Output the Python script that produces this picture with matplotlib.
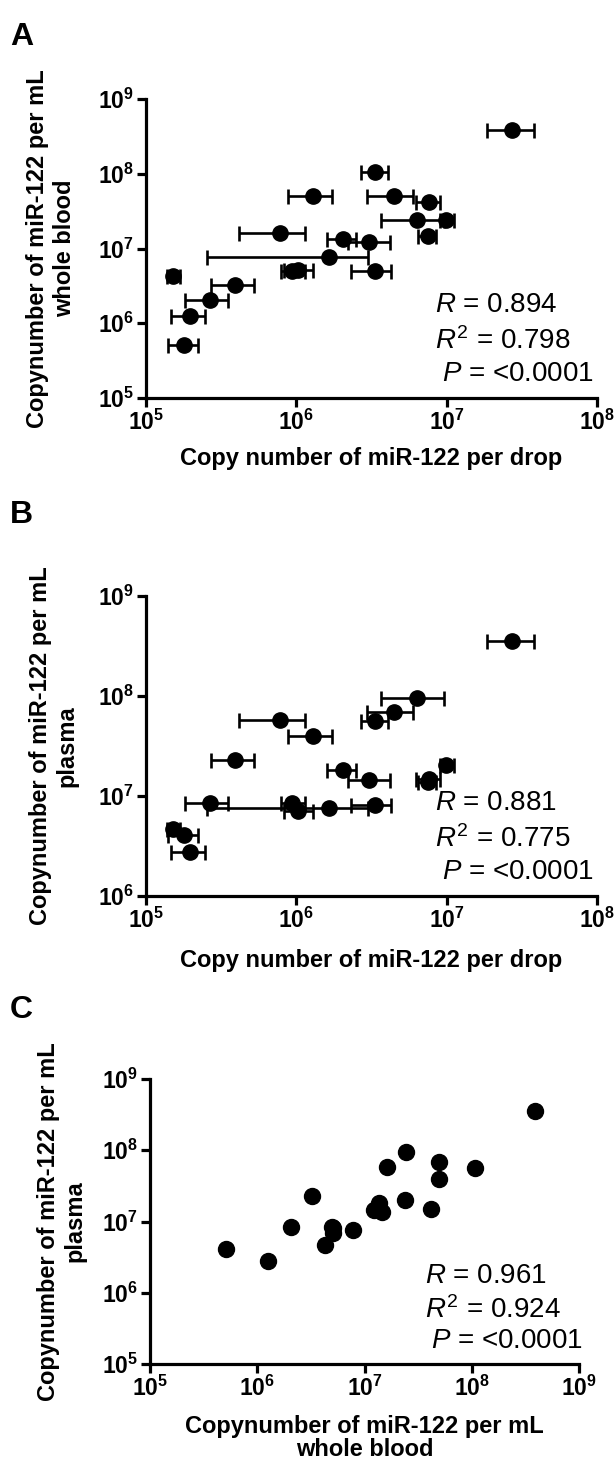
import numpy as np
import matplotlib.pyplot as plt

plt.rcParams['font.family'] = ['Liberation Sans', 'DejaVu Sans']
plt.rcParams['mathtext.fontset'] = 'custom'
plt.rcParams['mathtext.rm'] = 'Liberation Sans'
plt.rcParams['mathtext.it'] = 'Liberation Sans:italic'
plt.rcParams['mathtext.bf'] = 'Liberation Sans:bold'

# --- data: one entry per sample ---
# copy number per drop, with lower / upper error bar ends
drop = [2.73e7, 3.36e6, 1.30e6, 4.46e6, 7.67e6, 6.31e6, 9.9e6, 7.53e6, 7.82e5, 2.04e6,
        3.04e6, 1.66e6, 9.3e5, 1.02e6, 3.33e6, 1.51e5, 3.91e5, 2.68e5, 1.97e5, 1.80e5]
drop_lo = [1.86e7, 2.69e6, 8.8e5, 2.95e6, 6.24e6, 3.66e6, 9.08e6, 6.44e6, 4.15e5, 1.59e6,
           2.19e6, 2.54e5, 7.9e5, 8.3e5, 2.32e6, 1.38e5, 2.70e5, 1.81e5, 1.47e5, 1.41e5]
drop_hi = [3.80e7, 4.07e6, 1.74e6, 6.0e6, 8.97e6, 9.55e6, 1.12e7, 8.45e6, 1.14e6, 2.48e6,
           4.23e6, 3.0e6, 1.15e6, 1.29e6, 4.29e6, 1.68e5, 5.21e5, 3.53e5, 2.47e5, 2.22e5]
# copy number per mL whole blood
blood = [3.9e8, 1.07e8, 5.0e7, 5.0e7, 4.2e7, 2.42e7, 2.4e7, 1.46e7, 1.61e7, 1.36e7,
         1.22e7, 7.8e6, 4.95e6, 5.1e6, 5.07e6, 4.3e6, 3.27e6, 2.07e6, 1.26e6, 5.1e5]
# copy number per mL plasma
plasma = [3.58e8, 5.6e7, 3.95e7, 6.9e7, 1.49e7, 9.5e7, 2.02e7, 1.37e7, 5.8e7, 1.83e7,
          1.44e7, 7.6e6, 8.5e6, 7.0e6, 8.2e6, 4.66e6, 2.31e7, 8.5e6, 2.78e6, 4.07e6]

stats_a = ['0.894', '0.798', '<0.0001']
stats_b = ['0.881', '0.775', '<0.0001']
stats_c = ['0.961', '0.924', '<0.0001']

drop = np.array(drop)
xerr = [drop - np.array(drop_lo), np.array(drop_hi) - drop]

W, H = 615, 1463
fig = plt.figure(figsize=(W / 100, H / 100), dpi=100)


def box(left, right, top, bottom):
    return [left / W, 1 - bottom / H, (right - left) / W, (bottom - top) / H]


def style(ax, xlim, ylim):
    ax.set_xscale('log')
    ax.set_yscale('log')
    ax.set_xlim(*xlim)
    ax.set_ylim(*ylim)
    xt = 10.0 ** np.arange(np.log10(xlim[0]), np.log10(xlim[1]) + 1)
    yt = 10.0 ** np.arange(np.log10(ylim[0]), np.log10(ylim[1]) + 1)
    ax.set_xticks(xt)
    ax.set_yticks(yt)
    ax.set_xticklabels([r'$\mathbf{10^{%d}}$' % round(np.log10(v)) for v in xt])
    ax.set_yticklabels([r'$\mathbf{10^{%d}}$' % round(np.log10(v)) for v in yt])
    ax.minorticks_off()
    for s in ['top', 'right']:
        ax.spines[s].set_visible(False)
    for s in ['left', 'bottom']:
        ax.spines[s].set_linewidth(2.3)
    ax.tick_params(width=2.3, length=6.5, labelsize=16.5, pad=2)


def stats(ax, vals):
    ax.text(0.64, 0.31, r'$\mathit{R}$ = ' + vals[0], transform=ax.transAxes,
            fontsize=20, va='center')
    ax.text(0.64, 0.19, r'$\mathit{R}^{\mathrm{2}}$ = ' + vals[1], transform=ax.transAxes,
            fontsize=20, va='center')
    ax.text(0.656, 0.08, r'$\mathit{P}$ = ' + vals[2], transform=ax.transAxes,
            fontsize=20, va='center')


eb = dict(fmt='o', color='black', ms=11, elinewidth=1.9, capsize=5.4, capthick=1.9)

# --- A ---
axA = fig.add_axes(box(146, 597, 99, 398))
axA.errorbar(drop, blood, xerr=xerr, **eb)
style(axA, (1e5, 1e8), (1e5, 1e9))
axA.set_xlabel('Copy number of miR-122 per drop', fontsize=17, fontweight='bold')
axA.xaxis.set_label_coords(0.5, -0.165)
axA.set_ylabel('Copynumber of miR-122 per mL\nwhole blood', fontsize=17,
               fontweight='bold', va='center')
axA.yaxis.set_label_coords(-0.21, 0.5)
stats(axA, stats_a)
fig.text(10 / W, 1 - 37 / H, 'A', fontsize=23, fontweight='bold', va='center')

# --- B ---
axB = fig.add_axes(box(146, 597, 596, 896))
axB.errorbar(drop, plasma, xerr=xerr, **eb)
style(axB, (1e5, 1e8), (1e6, 1e9))
axB.set_xlabel('Copy number of miR-122 per drop', fontsize=17, fontweight='bold')
axB.xaxis.set_label_coords(0.5, -0.175)
axB.set_ylabel('Copynumber of miR-122 per mL\nplasma', fontsize=17,
               fontweight='bold', va='center')
axB.yaxis.set_label_coords(-0.205, 0.5)
stats(axB, stats_b)
fig.text(10 / W, 1 - 515 / H, 'B', fontsize=23, fontweight='bold', va='center')

# --- C ---
axC = fig.add_axes(box(150, 579, 1079, 1364))
axC.plot(blood, plasma, 'o', color='black', ms=11.5)
style(axC, (1e5, 1e9), (1e5, 1e9))
axC.set_xlabel('Copynumber of miR-122 per mL\nwhole blood', fontsize=17,
               fontweight='bold', linespacing=1.0)
axC.xaxis.set_label_coords(0.5, -0.18)
axC.set_ylabel('Copynumber of miR-122 per mL\nplasma', fontsize=17,
               fontweight='bold', va='center')
axC.yaxis.set_label_coords(-0.205, 0.5)
stats(axC, stats_c)
fig.text(10 / W, 1 - 1010 / H, 'C', fontsize=23, fontweight='bold', va='center')

fig.savefig('out.png', dpi=100)
